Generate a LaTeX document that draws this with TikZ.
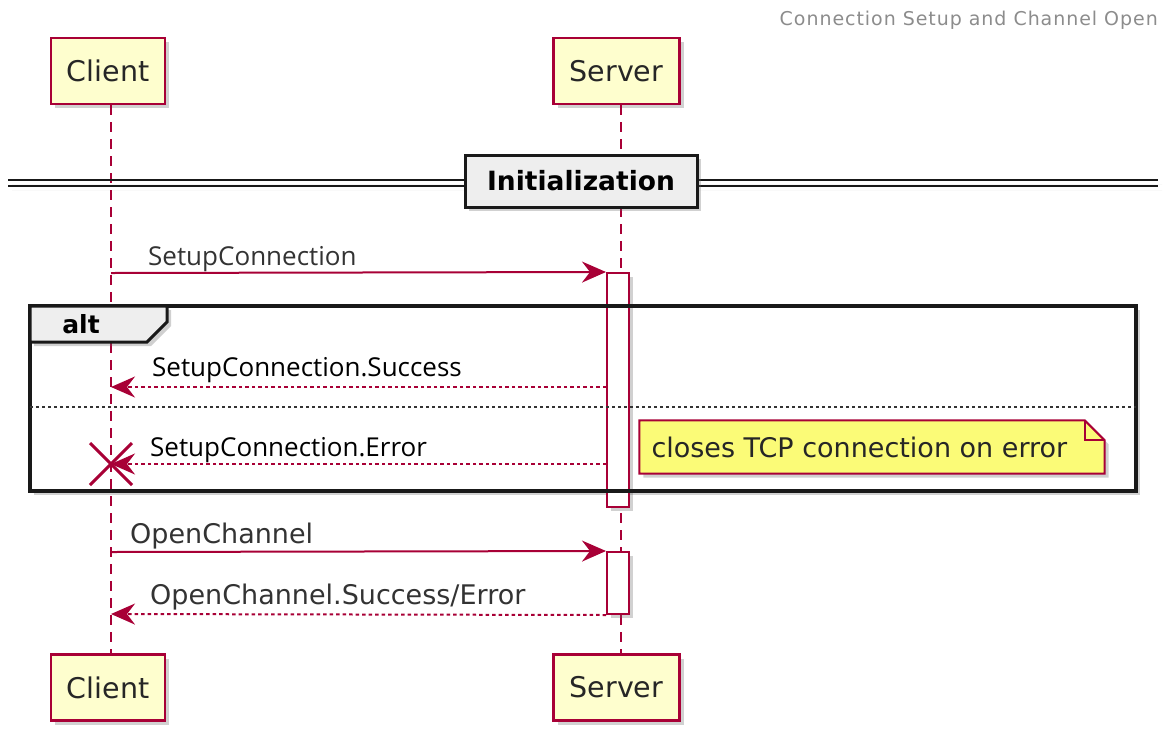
\documentclass[tikz,border=0pt]{standalone}
\usepackage{fontspec}
\setmainfont{Open Sans}
\newfontfamily\dejavu{DejaVu Sans}
\usetikzlibrary{positioning,arrows.meta,shadows}
\definecolor{umlred}{HTML}{A80036}
\definecolor{umlfill}{HTML}{FEFECE}
\definecolor{notefill}{HTML}{FBFB77}
\definecolor{groupfill}{HTML}{EEEEEE}
\tikzset{
>={Stealth[length=24pt,width=21pt,inset=8pt]},
umlshadow/.style={drop shadow={shadow xshift=4pt,shadow yshift=-4pt,opacity=0.3,fill=black!60}},
participant/.style={draw=umlred, fill=umlfill, line width=2.5pt, minimum width=114pt, minimum height=66pt, inner sep=0pt, umlshadow, text=black!85, font=\dejavu\fontsize{28.5}{32}\selectfont},
lifeline/.style={umlred, line width=2pt, dash pattern=on 10pt off 7pt},
actbar/.style={draw=umlred, fill=white, line width=2pt, minimum width=22pt, inner sep=0pt, umlshadow},
msg/.style={->, umlred, line width=2pt},
reply/.style={msg, dash pattern=on 3.5pt off 3pt},
msglabel/.style={anchor=base west, inner sep=0pt, text=black, font=\fontsize{26}{30}\selectfont},
oclabel/.style={msglabel, text=black!80, font=\dejavu\fontsize{27}{31}\selectfont},
groupbox/.style={draw=black!90, fill=groupfill, line width=3pt, umlshadow},
}

\begin{document}
\begin{tikzpicture}[x=1pt,y=-1pt]
    \useasboundingbox (0,0) rectangle (1167,740);

    \node[anchor=east, inner sep=0pt, text=black!45, font=\dejavu\fontsize{19}{22}\selectfont\addfontfeature{LetterSpace=5}] (title) at (1158,20) {Connection Setup and Channel Open};

    \path[fill=white, umlshadow] (30,306) rectangle (1136,491);

    \node[participant] (client) at (108,71) {Client};
    \node[participant, minimum width=126pt, right=386pt of client] (server) {Server};
    \node[participant, below=548pt of client] (clientb) {Client};
    \node[participant, minimum width=126pt, below=548pt of server] (serverb) {Server};

    \draw[lifeline] ([xshift=3pt]client.south) -- ([xshift=3pt]clientb.north);
    \draw[lifeline] ([xshift=4pt]server.south) -- ([xshift=4pt]serverb.north);

    \draw[black!90, line width=1.8pt, umlshadow] (8,180) -- (1158,180) (8,186) -- (1158,186);
    \node[groupbox, minimum width=232pt, minimum height=52pt, font=\dejavu\bfseries\fontsize{26.5}{30}\selectfont] (init) at (581,181) {Initialization};

    \node[actbar, minimum height=234pt] (act1) at (618,390) {};
    \node[actbar, minimum height=62pt] (act2) at (618,583) {};

    \draw[black!90, line width=3.5pt] (30,306) rectangle (1136,491);
    \draw[groupbox] (30,306) -- (167,306) -- (167,322) -- (147,342) -- (30,342) -- cycle;
    \node[font=\dejavu\bfseries\fontsize{25}{29}\selectfont] (alt) at (81,324) {alt};
    \draw[black!80, line width=1.2pt, dash pattern=on 3pt off 3pt] (30,407) -- (1136,407);

    \coordinate (c1) at (111,273);
    \coordinate (c2) at (111,387);
    \coordinate (c3) at (111,464);
    \coordinate (c4) at (111,552);
    \coordinate (c5) at (111,614);

    \draw[msg] (c1) -- (act1.north west);
    \node[msglabel, text=black!80] (m1) at (148,265) {SetupConnection};
    \draw[reply] (act1.west |- c2) -- (c2);
    \node[msglabel] (m2) at (152,376) {SetupConnection.Success};
    \draw[reply] (act1.west |- c3) -- (c3);
    \node[msglabel] (m3) at (150,456) {SetupConnection.Error};
    \draw[umlred, line width=3pt] ([xshift=-21pt,yshift=21pt]c3) -- ([xshift=21pt,yshift=-21pt]c3)
        ([xshift=-21pt,yshift=-21pt]c3) -- ([xshift=21pt,yshift=21pt]c3);

    \node[inner sep=0pt, minimum width=465pt, minimum height=53pt] (note) at (872,447) {};
    \draw[umlred, fill=notefill, line width=2pt, umlshadow] (note.north west) -- ([xshift=-20pt]note.north east)
        -- ([yshift=-20pt]note.north east) -- (note.south east) -- (note.south west) -- cycle;
    \draw[umlred, line width=2pt] ([xshift=-20pt]note.north east) -- ([xshift=-20pt,yshift=-20pt]note.north east)
        -- ([yshift=-20pt]note.north east);
    \node[anchor=west, inner sep=0pt, text=black!85, font=\dejavu\fontsize{27}{31}\selectfont] (notetext) at ([xshift=12pt]note.west) {closes TCP connection on error};

    \draw[msg] (c4) -- (act2.north west);
    \node[oclabel] (m4) at (130,543) {OpenChannel};
    \draw[reply] (act2.south west) -- (c5);
    \node[oclabel] (m5) at (150,604) {OpenChannel.Success/Error};

\end{tikzpicture}
\end{document}
